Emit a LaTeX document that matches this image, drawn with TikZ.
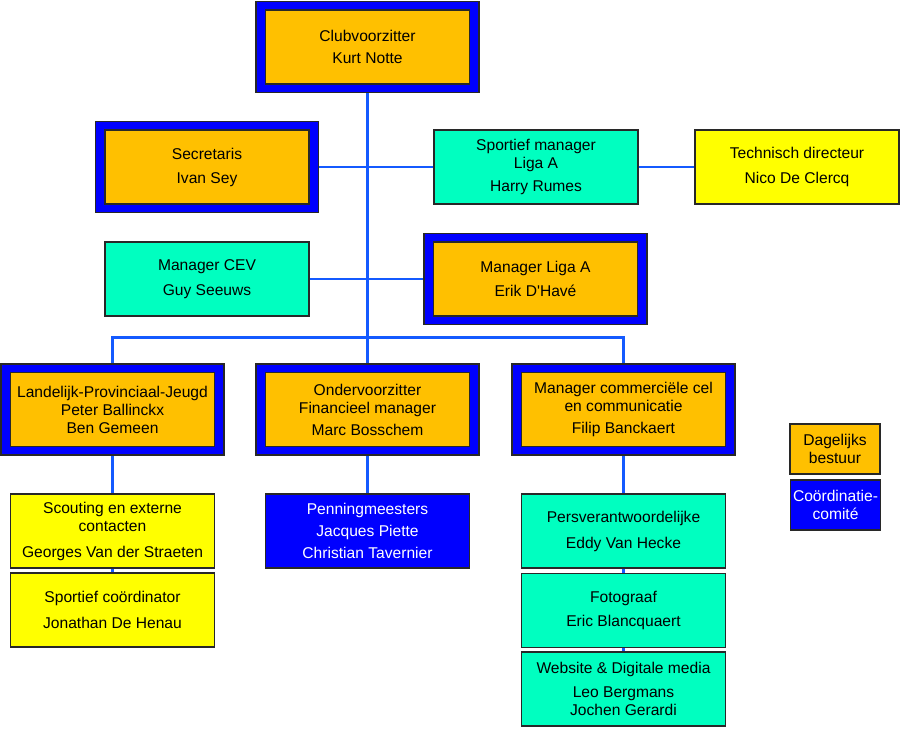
\documentclass[tikz,border=0pt]{standalone}
\usepackage{fontspec}
\setmainfont{Liberation Sans}

\definecolor{boxorange}{RGB}{255,192,0}
\definecolor{boxteal}{RGB}{0,255,192}
\definecolor{boxyellow}{RGB}{255,255,0}
\definecolor{frameblue}{RGB}{0,0,255}
\definecolor{linkblue}{RGB}{20,90,255}
\definecolor{edgegray}{RGB}{40,40,40}

\pgfdeclarelayer{bg}
\pgfdeclarelayer{links}
\pgfsetlayers{bg,links,main}

\begin{document}
\begin{tikzpicture}[x=0.75pt,y=-0.75pt,
    every node/.style={font=\fontsize{11.7}{13.5}\selectfont,align=center,inner sep=0pt},
    box/.style={draw=edgegray,line width=0.8pt,minimum width=153pt,minimum height=55.5pt},
    leadbox/.style={box,fill=boxorange},
    tealbox/.style={box,fill=boxteal},
    yellowbox/.style={box,fill=boxyellow},
    bluebox/.style={box,fill=frameblue,text=white},
    outerframe/.style={draw=edgegray,line width=0.8pt,fill=frameblue,
      minimum width=167.25pt,minimum height=68.25pt},
    link/.style={draw=linkblue,line width=2.2pt}]
  \useasboundingbox (0,0) rectangle (900,740);
  \begin{pgfonlayer}{bg}
    \fill[white] (0,0) rectangle (900,740);
  \end{pgfonlayer}

  % top
  \node[outerframe] (clubF) at (367.5,47) {};
  \node[leadbox] (club) at (clubF) {Clubvoorzitter\\[3pt]Kurt Notte};

  % second level
  \node[outerframe] (secrF) at (207,167) {};
  \node[leadbox] (secr) at (secrF) {Secretaris\\[4.5pt]Ivan Sey};
  \node[tealbox] (sport) at (536,167) {Sportief manager\\Liga A\\[4pt]Harry Rumes};
  \node[yellowbox] (tech) at (797,167) {Technisch directeur\\[5pt]Nico De Clercq};
  \node[tealbox] (cev) at (207,279) {Manager CEV\\[5pt]Guy Seeuws};
  \node[outerframe] (ligaF) at (535.5,279) {};
  \node[leadbox] (liga) at (ligaF) {Manager Liga A\\[5pt]Erik D\textquotesingle Havé};

  % third level
  \node[outerframe] (jeugdF) at (112.5,409.5) {};
  \node[leadbox] (jeugd) at (jeugdF) {Landelijk-Provinciaal-Jeugd\\Peter Ballinckx\\Ben Gemeen};
  \node[outerframe] (ondF) at (367.5,409.5) {};
  \node[leadbox] (ond) at (ondF) {Ondervoorzitter\\Financieel manager\\[3pt]Marc Bosschem};
  \node[outerframe] (commF) at (623.5,409.5) {};
  \node[leadbox] (comm) at (commF) {Manager commerciële cel\\en communicatie\\[3pt]Filip Banckaert};

  % fourth level
  \node[yellowbox] (scout) at (112.5,531) {Scouting en externe\\contacten\\[6pt]Georges Van der Straeten};
  \node[yellowbox] (coord) at (112.5,610) {Sportief coördinator\\[6pt]Jonathan De Henau};
  \node[bluebox] (penn) at (367.5,531) {Penningmeesters\\[3pt]Jacques Piette\\[3pt]Christian Tavernier};
  \node[tealbox] (pers) at (623.5,531) {Persverantwoordelijke\\[6pt]Eddy Van Hecke};
  \node[tealbox] (foto) at (623.5,610.5) {Fotograaf\\[5pt]Eric Blancquaert};
  \node[tealbox] (web) at (623.5,689) {Website \& Digitale media\\[4.5pt]Leo Bergmans\\Jochen Gerardi};

  % legend
  \node[leadbox,minimum width=67.5pt,minimum height=37.5pt] (dag) at (835,449) {Dagelijks\\bestuur};
  \node[bluebox,minimum width=67.5pt,minimum height=37.5pt] (cc) at (835.5,505) {Coördinatie-\\comité};

  \begin{pgfonlayer}{links}
    \draw[link] (clubF.south) -- (ondF.north);
    \draw[link] (secrF.east) -- (sport.west);
    \draw[link] (sport.east) -- (tech.west);
    \draw[link] (cev.east) -- (ligaF.west);
    \draw[link] (jeugdF.north) -- ++(0,-26) -| (commF.north);
    \draw[link] (jeugdF.south) -- (scout.north);
    \draw[link] (scout.south) -- (coord.north);
    \draw[link] (ondF.south) -- (penn.north);
    \draw[link] (commF.south) -- (pers.north);
    \draw[link] (pers.south) -- (foto.north);
    \draw[link] (foto.south) -- (web.north);
  \end{pgfonlayer}
\end{tikzpicture}
\end{document}
